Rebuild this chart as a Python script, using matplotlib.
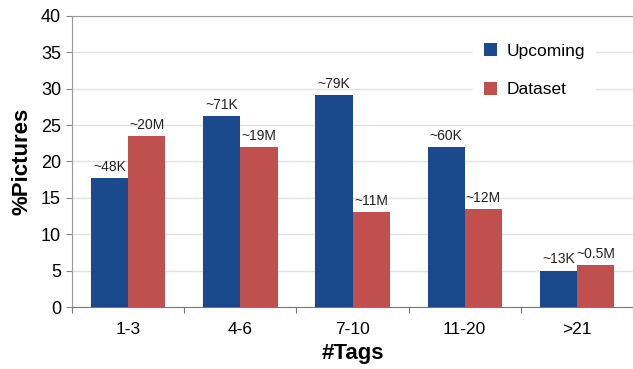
import matplotlib
matplotlib.use("Agg")
import matplotlib.pyplot as plt
import numpy as np

categories = ["1-3", "4-6", "7-10", "11-20", ">21"]
upcoming = [17.7, 26.2, 29.1, 22.0, 5.0]
dataset = [23.5, 22.0, 13.0, 13.5, 5.8]
upcoming_labels = ["~48K", "~71K", "~79K", "~60K", "~13K"]
dataset_labels = ["~20M", "~19M", "~11M", "~12M", "~0.5M"]
yticks = [0, 5, 10, 15, 20, 25, 30, 35, 40]

blue = "#1B4A8C"
red = "#C0504D"

plt.rcParams["font.family"] = ["Liberation Sans", "DejaVu Sans"]

fig = plt.figure(figsize=(6.33, 3.69), dpi=100)
ax = fig.add_axes([0.114, 0.168, 0.886, 0.789])

x = np.arange(len(categories))
w = 0.332
b1 = ax.bar(x - w / 2, upcoming, w, color=blue, label="Upcoming", zorder=3)
b2 = ax.bar(x + w / 2, dataset, w, color=red, label="Dataset", zorder=3)

for rects, labels in ((b1, upcoming_labels), (b2, dataset_labels)):
    for r, t in zip(rects, labels):
        ax.annotate(t, (r.get_x() + r.get_width() / 2, r.get_height()),
                    xytext=(0, 3), textcoords="offset points",
                    ha="center", va="bottom", fontsize=10, color="#222222")

ax.set_xlim(-0.5, 4.46)
ax.set_ylim(0, 40)
ax.set_yticks(yticks)
ax.set_xticks(np.arange(-0.5, 5, 1), minor=False)
ax.set_xticklabels([])
ax.set_xticks(x, minor=True)
ax.set_xticklabels(categories, minor=True, fontsize=12.5)
ax.tick_params(axis="x", which="minor", length=0, pad=11)
ax.tick_params(axis="x", which="major", length=4, color="#777777", direction="out")
ax.tick_params(axis="y", labelsize=13, length=4, color="#888888", pad=4)

ax.grid(axis="y", color="#E2E2E2", linewidth=1.0, zorder=0)
for s in ("left", "top"):
    ax.spines[s].set_color("#999999")
ax.spines["bottom"].set_color("#777777")
ax.spines["right"].set_visible(False)

ax.set_ylabel("%Pictures", fontsize=16, fontweight="bold", labelpad=6)
ax.set_xlabel("#Tags", fontsize=16, fontweight="bold", labelpad=4)

leg = ax.legend(loc="upper left", bbox_to_anchor=(0.7, 0.972), frameon=True,
                fontsize=12.5, handlelength=0.75, handleheight=0.75,
                labelspacing=1.35, borderpad=0.6, handletextpad=0.55)
leg.get_frame().set_facecolor("white")
leg.get_frame().set_edgecolor("white")
leg.get_frame().set_alpha(1.0)
leg.set_zorder(5)

fig.savefig("out.png", dpi=100)
